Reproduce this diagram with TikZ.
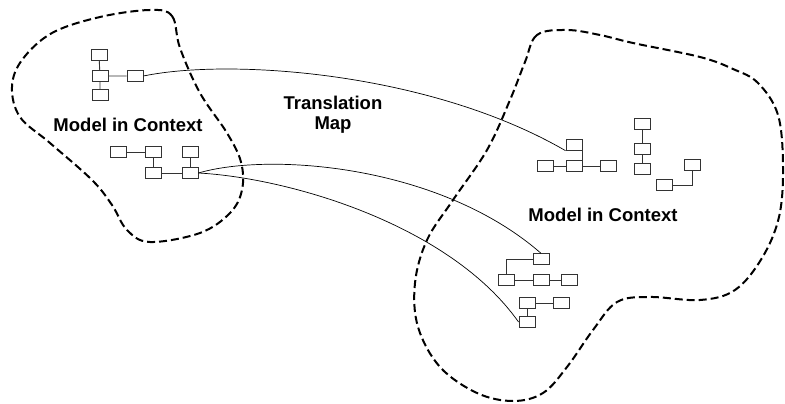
\documentclass[tikz,border=0pt]{standalone}
\usepackage{fontspec}
\setmainfont{Liberation Sans}
\begin{document}
\begin{tikzpicture}[x=1pt,y=-1pt,
  bx/.style={draw=black!80,line width=0.9pt,minimum width=16pt,minimum height=10.5pt,inner sep=0pt,fill=white},
  lk/.style={draw=black!80,line width=0.9pt},
  cn/.style={draw=black,line width=0.7pt},
  blob/.style={draw=black,line width=2pt,dash pattern=on 8pt off 4pt},
  lbl/.style={font=\bfseries\fontsize{18.5}{20}\selectfont,align=center,inner sep=0pt}]
\useasboundingbox (0,0) rectangle (785,404);
% left blob
\draw[blob] plot[smooth cycle,tension=0.6] coordinates {
 (150,10) (172,16) (180,48) (200,93) (227,133) (241,162) (242,190) (230,213)
 (200,233) (150,242) (127,230) (112,205) (92,180) (50,143) (20,117) (12,87)
 (22,60) (52,33) (100,17)};
% right blob
\draw[blob] plot[smooth cycle,tension=0.6] coordinates {
 (567,30) (537,35) (525,62) (510,100) (487,150) (453,200) (427,240) (415,283)
 (418,327) (440,367) (477,393) (513,401) (543,393) (567,367) (593,330) (617,302)
 (650,297) (700,300) (735,290) (762,258) (779,217) (783,167) (778,115) (758,83)
 (733,69) (700,57) (633,43) (600,35)};
% left group 1
\node[bx] (a1) at (99,55) {};
\node[bx] (a2) at (100,76) {};
\node[bx] (a3) at (135,76) {};
\node[bx] (a4) at (100,95) {};
\draw[lk] (a1) -- (a2) (a2) -- (a3) (a2) -- (a4);
% left group 2
\node[bx] (b1) at (118,152) {};
\node[bx] (b2) at (153,152) {};
\node[bx] (b3) at (153,173) {};
\node[bx] (b4) at (190,152) {};
\node[bx] (b5) at (190,173) {};
\draw[lk] (b1) -- (b2) (b2) -- (b3) (b3) -- (b5) (b4) -- (b5);
% right group 1
\node[bx] (p) at (574,145) {};
\node[bx] (q) at (545,166) {};
\node[bx] (r) at (574,166) {};
\node[bx] (s) at (608,166) {};
\draw[lk] (q) -- (r) (r) -- (s) (p.east) -- (p.east |- r.east);
% right group 2
\node[bx] (t) at (642,124) {};
\node[bx] (u) at (642,149) {};
\node[bx] (v) at (642,169) {};
\draw[lk] (t) -- (u) (u) -- (v);
% right group 3
\node[bx] (w) at (692,165) {};
\node[bx] (x) at (664,185) {};
\draw[lk] (x.east) -| (w.south);
% right group 4
\node[bx] (y) at (541,259) {};
\node[bx] (z1) at (506,280) {};
\node[bx] (z2) at (541,280) {};
\node[bx] (z3) at (569,280) {};
\draw[lk] (y.west) -| (z1.north) (z1) -- (z2) (z2) -- (z3);
% right group 5
\node[bx] (aa) at (527,303) {};
\node[bx] (ab) at (561,303) {};
\node[bx] (ac) at (527,322) {};
\draw[lk] (aa) -- (ab) (aa) -- (ac);
% labels
\node[lbl] (l1) at (128,125) {Model in Context};
\node[lbl] (l2) at (333,115) {Translation\\Map};
\node[lbl] (l3) at (603,215) {Model in Context};
% connectors
\draw[cn] (a3.east) .. controls (230,58) and (430,72) .. (p.south west);
\draw[cn] (b5.east) .. controls (270,152) and (440,165) .. (y.north);
\draw[cn] (b5.east) .. controls (290,178) and (450,225) .. (ac.west);
\end{tikzpicture}
\end{document}
